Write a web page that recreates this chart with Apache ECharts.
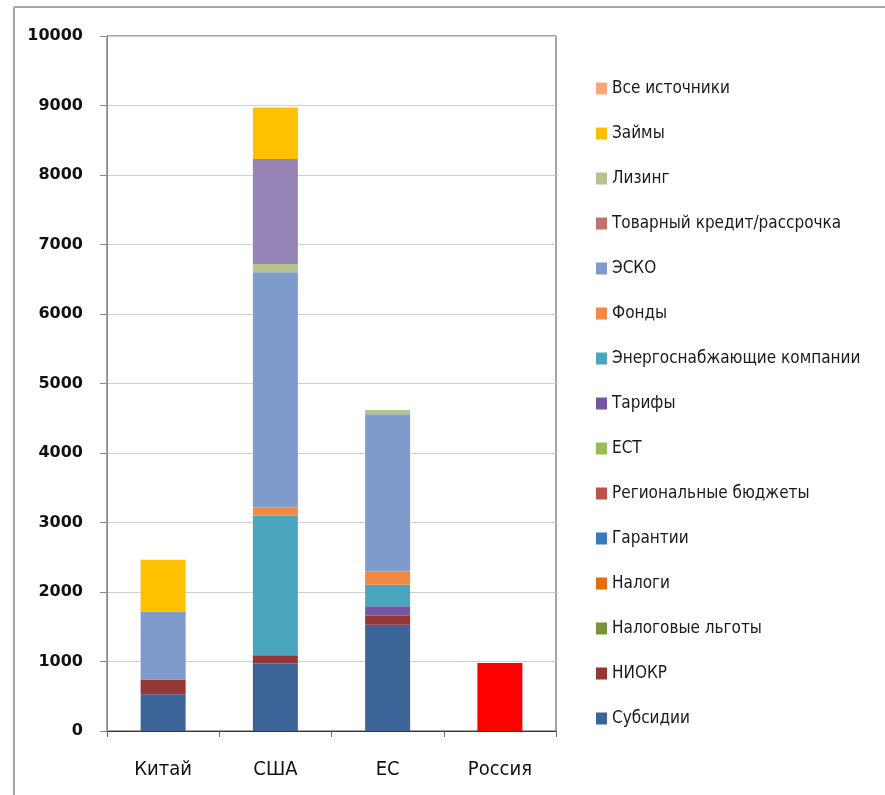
<!DOCTYPE html>
<html>
<head>
<meta charset="utf-8">
<script src="https://cdn.jsdelivr.net/npm/echarts@6/dist/echarts.min.js"></script>
<style>
  html, body { margin: 0; padding: 0; background: #ffffff; }
  #chart { width: 885px; height: 795px; }
</style>
</head>
<body>
<div id="chart"></div>
<script>
// Countries along the category axis
const countries = ['Китай', 'США', 'ЕС', 'Россия'];

// Funding sources, stacked bottom-up; values for [Китай, США, ЕС, Россия]
const subsidies      = [530, 970, 1530, 0];
const rnd            = [210, 120, 130, 0];
const taxBenefits    = [0, 0, 0, 0];
const taxes          = [0, 0, 0, 0];
const guarantees     = [0, 0, 0, 0];
const regionalBudget = [0, 0, 0, 0];
const ect            = [0, 0, 0, 0];
const tariffs        = [0, 0, 135, 0];
const utilities      = [0, 2010, 311, 0];
const funds          = [0, 115, 190, 0];
const esco           = [980, 3385, 2263, 0];
const tradeCredit    = [0, 0, 0, 0];
const leasing        = [0, 120, 60, 0];
const other          = [0, 1510, 0, 0];
const loans          = [743, 740, 0, 0];
const allSources     = [0, 0, 0, 980];

// Value axis ticks
const yTicks = [0, 1000, 2000, 3000, 4000, 5000, 6000, 7000, 8000, 9000, 10000];

const stackDefs = [
  { name: 'Субсидии', data: subsidies, color: '#3c6496' },
  { name: 'НИОКР', data: rnd, color: '#953735' },
  { name: 'Налоговые льготы', data: taxBenefits, color: '#77933c' },
  { name: 'Налоги', data: taxes, color: '#e46c0a' },
  { name: 'Гарантии', data: guarantees, color: '#3b78c3' },
  { name: 'Региональные бюджеты', data: regionalBudget, color: '#c0504d' },
  { name: 'ЕСТ', data: ect, color: '#9bbb59' },
  { name: 'Тарифы', data: tariffs, color: '#7457a0' },
  { name: 'Энергоснабжающие компании', data: utilities, color: '#4aa6bf' },
  { name: 'Фонды', data: funds, color: '#f08a42' },
  { name: 'ЭСКО', data: esco, color: '#7f9bcb' },
  { name: 'Товарный кредит/рассрочка', data: tradeCredit, color: '#c0726f' },
  { name: 'Лизинг', data: leasing, color: '#b4c48c' },
  { name: 'Прочее', data: other, color: '#9485b6' },
  { name: 'Займы', data: loans, color: '#ffc000' },
  { name: 'Все источники', data: allSources, color: '#f9a77a' }
];

// Russia's total is highlighted in pure red
const highlight = { 'Россия': '#ff0000' };

const series = stackDefs.map(def => ({
  name: def.name,
  type: 'bar',
  stack: 'total',
  barWidth: 45,
  itemStyle: { color: def.color },
  data: def.data.map((v, i) => {
    const c = highlight[countries[i]];
    return (def.name === 'Все источники' && c) ? { value: v, itemStyle: { color: c } } : v;
  })
}));

// Legend lists sources top-down, reverse of the stack order
const legendNames = stackDefs.map(d => d.name).filter(n => n !== 'Прочее').reverse();

const chart = echarts.init(document.getElementById('chart'), null, { renderer: 'canvas' });
chart.setOption({
  animation: false,
  backgroundColor: '#ffffff',
  grid: {
    left: 107, top: 36, right: 329, bottom: 64,
    show: true, borderColor: '#4a4a4a', borderWidth: 1, backgroundColor: 'transparent'
  },
  legend: {
    orient: 'vertical',
    left: 591, top: 75,
    data: legendNames,
    icon: 'rect',
    itemWidth: 11, itemHeight: 12,
    itemGap: 28,
    selectedMode: false,
    textStyle: {
      fontFamily: '"Liberation Sans Narrow", "DejaVu Sans Condensed", sans-serif',
      fontSize: 17, color: '#1a1a1a', lineHeight: 17
    }
  },
  xAxis: {
    type: 'category',
    data: countries,
    axisLine: { lineStyle: { color: '#3a3a3a', width: 1 } },
    axisTick: { show: true, length: 6, lineStyle: { color: '#6a6a6a' } },
    axisLabel: {
      margin: 29,
      fontFamily: '"Liberation Sans Narrow", "DejaVu Sans Condensed", sans-serif',
      fontSize: 20, color: '#111111'
    }
  },
  yAxis: {
    type: 'value',
    min: yTicks[0], max: yTicks[yTicks.length - 1], interval: yTicks[1] - yTicks[0],
    axisLine: { show: true, lineStyle: { color: '#8c8c8c' } },
    axisTick: { show: true, length: 7, lineStyle: { color: '#8c8c8c' } },
    splitLine: { lineStyle: { color: '#cfcfcf' } },
    axisLabel: {
      margin: 24,
      formatter: v => String(v),
      fontFamily: '"DejaVu Sans", sans-serif',
      fontWeight: 'bold', fontSize: 16, color: '#111111'
    }
  },
  graphic: [
    { type: 'line', shape: { x1: 14, y1: 7, x2: 885, y2: 7 }, style: { stroke: '#a6a6a6', lineWidth: 2 } },
    { type: 'line', shape: { x1: 14, y1: 7, x2: 14, y2: 795 }, style: { stroke: '#a6a6a6', lineWidth: 2 } }
  ],
  series: series
});
</script>
</body>
</html>
